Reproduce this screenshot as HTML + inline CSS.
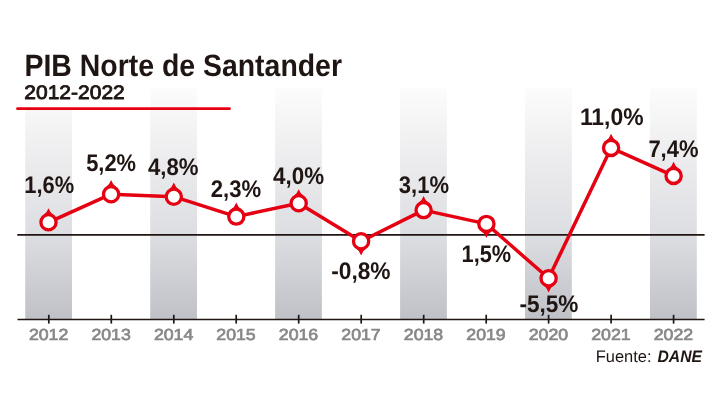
<!DOCTYPE html>
<html><head><meta charset="utf-8"><title>PIB Norte de Santander</title>
<style>
html,body{margin:0;padding:0;background:#fff;}
body{width:720px;height:405px;overflow:hidden;font-family:"Liberation Sans",sans-serif;}
svg{display:block;will-change:transform;}
text{font-family:"Liberation Sans",sans-serif;text-rendering:geometricPrecision;}
.val{font-size:24px;font-weight:bold;fill:#1f1613;stroke:#1f1613;stroke-width:0;}
.yr{font-size:16px;fill:#88888a;stroke:#88888a;stroke-width:0.7px;}
</style></head><body>
<svg width="720" height="405" viewBox="0 0 720 405">
<defs>
<linearGradient id="g" x1="0" y1="0" x2="0" y2="1">
<stop offset="0" stop-color="#fcfcfc"/>
<stop offset="0.31" stop-color="#ececee"/>
<stop offset="0.635" stop-color="#dddee2"/>
<stop offset="1" stop-color="#c0c1c7"/>
</linearGradient>
</defs>
<rect width="720" height="405" fill="#fff"/>

<rect x="25.2" y="88" width="46.8" height="231.6" fill="url(#g)"/>
<rect x="150.2" y="88" width="46.8" height="231.6" fill="url(#g)"/>
<rect x="275.1" y="88" width="46.8" height="231.6" fill="url(#g)"/>
<rect x="400.1" y="88" width="46.8" height="231.6" fill="url(#g)"/>
<rect x="525.0" y="88" width="46.8" height="231.6" fill="url(#g)"/>
<rect x="650.0" y="88" width="46.8" height="231.6" fill="url(#g)"/>
<rect x="20" y="80" width="60" height="29" fill="#fff"/>
<text x="24.5" y="75.8" font-size="30.9" font-weight="bold" fill="#1f1613" textLength="317.5" lengthAdjust="spacingAndGlyphs">PIB Norte de Santander</text>
<text x="24.3" y="99.35" font-size="19.6" fill="#1f1613" stroke="#1f1613" stroke-width="0.85" stroke-linejoin="round" textLength="100.5" lengthAdjust="spacingAndGlyphs">2012-2022</text>
<line x1="17.5" y1="108.7" x2="229.5" y2="108.7" stroke="#e50012" stroke-width="2.8" stroke-linecap="round"/>
<line x1="17.3" y1="234.95" x2="704.6" y2="234.95" stroke="#1f1613" stroke-width="1.7"/>
<line x1="17.5" y1="319.55" x2="704.6" y2="319.55" stroke="#1f1613" stroke-width="1.6"/>
<line x1="48.8" y1="314.8" x2="48.8" y2="323.6" stroke="#1f1613" stroke-width="1.7"/>
<line x1="111.3" y1="314.8" x2="111.3" y2="323.6" stroke="#1f1613" stroke-width="1.7"/>
<line x1="173.8" y1="314.8" x2="173.8" y2="323.6" stroke="#1f1613" stroke-width="1.7"/>
<line x1="236.2" y1="314.8" x2="236.2" y2="323.6" stroke="#1f1613" stroke-width="1.7"/>
<line x1="298.7" y1="314.8" x2="298.7" y2="323.6" stroke="#1f1613" stroke-width="1.7"/>
<line x1="361.2" y1="314.8" x2="361.2" y2="323.6" stroke="#1f1613" stroke-width="1.7"/>
<line x1="423.7" y1="314.8" x2="423.7" y2="323.6" stroke="#1f1613" stroke-width="1.7"/>
<line x1="486.2" y1="314.8" x2="486.2" y2="323.6" stroke="#1f1613" stroke-width="1.7"/>
<line x1="548.6" y1="314.8" x2="548.6" y2="323.6" stroke="#1f1613" stroke-width="1.7"/>
<line x1="611.1" y1="314.8" x2="611.1" y2="323.6" stroke="#1f1613" stroke-width="1.7"/>
<line x1="673.6" y1="314.8" x2="673.6" y2="323.6" stroke="#1f1613" stroke-width="1.7"/>
<text class="yr" x="28.9" y="339.6" textLength="39.4" lengthAdjust="spacingAndGlyphs">2012</text>
<text class="yr" x="91.4" y="339.6" textLength="39.4" lengthAdjust="spacingAndGlyphs">2013</text>
<text class="yr" x="153.9" y="339.6" textLength="39.4" lengthAdjust="spacingAndGlyphs">2014</text>
<text class="yr" x="216.3" y="339.6" textLength="39.4" lengthAdjust="spacingAndGlyphs">2015</text>
<text class="yr" x="278.8" y="339.6" textLength="39.4" lengthAdjust="spacingAndGlyphs">2016</text>
<text class="yr" x="341.3" y="339.6" textLength="39.4" lengthAdjust="spacingAndGlyphs">2017</text>
<text class="yr" x="403.8" y="339.6" textLength="39.4" lengthAdjust="spacingAndGlyphs">2018</text>
<text class="yr" x="466.3" y="339.6" textLength="39.4" lengthAdjust="spacingAndGlyphs">2019</text>
<text class="yr" x="528.7" y="339.6" textLength="39.4" lengthAdjust="spacingAndGlyphs">2020</text>
<text class="yr" x="591.2" y="339.6" textLength="39.4" lengthAdjust="spacingAndGlyphs">2021</text>
<text class="yr" x="653.7" y="339.6" textLength="39.4" lengthAdjust="spacingAndGlyphs">2022</text>
<polyline fill="none" stroke="#e50012" stroke-width="3.5" stroke-linejoin="round" points="48.5,222.3 111.1,194.2 173.8,196.7 236.3,216.6 298.7,203.3 361.1,241.3 423.6,210.1 486.4,223.9 548.6,278.3 611.1,147.9 673.6,175.9"/>
<path d="M43.3,215.3 Q46.8,213.0 48.5,208.2 Q50.2,213.0 53.7,215.3 Z" fill="#e50012"/>
<circle cx="48.5" cy="222.3" r="7.6" fill="#fff" stroke="#e50012" stroke-width="3.3"/>
<path d="M105.9,187.2 Q109.4,184.9 111.1,180.1 Q112.8,184.9 116.3,187.2 Z" fill="#e50012"/>
<circle cx="111.1" cy="194.2" r="7.6" fill="#fff" stroke="#e50012" stroke-width="3.3"/>
<path d="M168.6,189.7 Q172.1,187.4 173.8,182.6 Q175.5,187.4 179.0,189.7 Z" fill="#e50012"/>
<circle cx="173.8" cy="196.7" r="7.6" fill="#fff" stroke="#e50012" stroke-width="3.3"/>
<path d="M231.1,209.6 Q234.6,207.3 236.3,202.5 Q238.0,207.3 241.5,209.6 Z" fill="#e50012"/>
<circle cx="236.3" cy="216.6" r="7.6" fill="#fff" stroke="#e50012" stroke-width="3.3"/>
<path d="M293.5,196.3 Q297.0,194.0 298.7,189.2 Q300.4,194.0 303.9,196.3 Z" fill="#e50012"/>
<circle cx="298.7" cy="203.3" r="7.6" fill="#fff" stroke="#e50012" stroke-width="3.3"/>
<path d="M355.9,248.3 Q359.4,250.6 361.1,255.4 Q362.8,250.6 366.3,248.3 Z" fill="#e50012"/>
<circle cx="361.1" cy="241.3" r="7.6" fill="#fff" stroke="#e50012" stroke-width="3.3"/>
<path d="M418.4,203.1 Q421.9,200.8 423.6,196.0 Q425.3,200.8 428.8,203.1 Z" fill="#e50012"/>
<circle cx="423.6" cy="210.1" r="7.6" fill="#fff" stroke="#e50012" stroke-width="3.3"/>
<path d="M481.2,230.9 Q484.7,233.2 486.4,238.0 Q488.1,233.2 491.6,230.9 Z" fill="#e50012"/>
<circle cx="486.4" cy="223.9" r="7.6" fill="#fff" stroke="#e50012" stroke-width="3.3"/>
<path d="M543.4,285.3 Q546.9,287.6 548.6,292.4 Q550.3,287.6 553.8,285.3 Z" fill="#e50012"/>
<circle cx="548.6" cy="278.3" r="7.6" fill="#fff" stroke="#e50012" stroke-width="3.3"/>
<path d="M605.9,140.9 Q609.4,138.6 611.1,133.8 Q612.8,138.6 616.3,140.9 Z" fill="#e50012"/>
<circle cx="611.1" cy="147.9" r="7.6" fill="#fff" stroke="#e50012" stroke-width="3.3"/>
<path d="M668.4,168.9 Q671.9,166.6 673.6,161.8 Q675.3,166.6 678.8,168.9 Z" fill="#e50012"/>
<circle cx="673.6" cy="175.9" r="7.6" fill="#fff" stroke="#e50012" stroke-width="3.3"/>
<text class="val" x="24.3" y="193.3" textLength="49.9" lengthAdjust="spacingAndGlyphs">1,6%</text>
<text class="val" x="86.2" y="170.7" textLength="49.9" lengthAdjust="spacingAndGlyphs">5,2%</text>
<text class="val" x="148.0" y="175.0" textLength="50.6" lengthAdjust="spacingAndGlyphs">4,8%</text>
<text class="val" x="210.8" y="196.9" textLength="50.4" lengthAdjust="spacingAndGlyphs">2,3%</text>
<text class="val" x="273.1" y="183.7" textLength="51.0" lengthAdjust="spacingAndGlyphs">4,0%</text>
<text class="val" x="331.2" y="278.6" textLength="59.4" lengthAdjust="spacingAndGlyphs">-0,8%</text>
<text class="val" x="398.8" y="193.2" textLength="50.2" lengthAdjust="spacingAndGlyphs">3,1%</text>
<text class="val" x="461.6" y="262.0" textLength="49.6" lengthAdjust="spacingAndGlyphs">1,5%</text>
<text class="val" x="519.4" y="311.9" textLength="59.0" lengthAdjust="spacingAndGlyphs">-5,5%</text>
<text class="val" x="579.9" y="125.4" textLength="63.7" lengthAdjust="spacingAndGlyphs">11,0%</text>
<text class="val" x="648.4" y="156.7" textLength="50.1" lengthAdjust="spacingAndGlyphs">7,4%</text>
<text x="595.7" y="361.7" font-size="16.6" fill="#1f1613" textLength="55.8" lengthAdjust="spacingAndGlyphs">Fuente:</text>
<text x="657.5" y="361.7" font-size="16.6" font-weight="bold" font-style="italic" fill="#1f1613" textLength="44.5" lengthAdjust="spacingAndGlyphs">DANE</text>
</svg></body></html>
